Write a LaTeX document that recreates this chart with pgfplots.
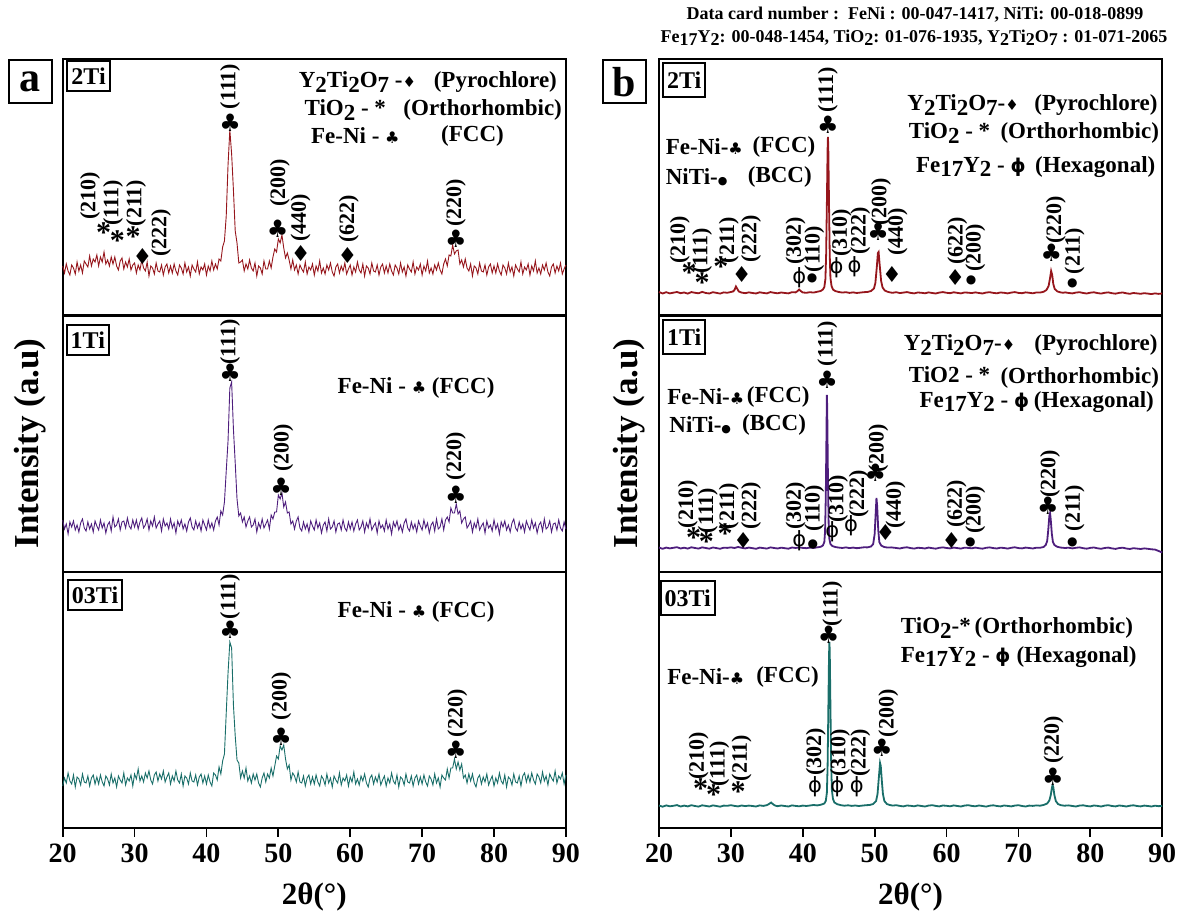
\documentclass[border=0pt]{standalone}
\usepackage{fontspec}
\setmainfont{Liberation Serif}
\newfontfamily\symf{DejaVu Sans}
\usepackage{pgfplots}
\usepackage{pgfplotstable}
\pgfplotsset{compat=1.18}
\definecolor{cr}{RGB}{150,22,28}
\definecolor{cp}{RGB}{78,30,125}
\definecolor{cg}{RGB}{25,110,105}
\newcommand\sub[1]{\raisebox{-0.4ex}{#1}}
\newcommand\sclub{{\symf\fontsize{8}{8}\selectfont ♣}}
\newcommand\sdia{{\symf\fontsize{7.5}{8}\selectfont ♦}}
\newcommand\sbul{{\symf\fontsize{5.5}{6}\selectfont ●}}
\newcommand\sphi{{\symf\fontsize{9.5}{10}\selectfont ϕ}}

\pgfplotstableread[row sep=\\]{x r p g\\
20 49 52 42\\20.25 42 43 50\\20.5 51 48 45\\20.75 44 38 55\\21 40 50 47\\21.25 50 45 44\\21.5 47 51 53\\21.75 41 42 41\\
22 53 47 51\\22.25 44 40 49\\22.5 50 49 43\\22.75 42 53 54\\23 54 44 46\\23.25 51 41 45\\23.5 48 50 52\\23.75 59 43 42\\
24 49 48 50\\24.25 56 40 53\\24.5 53 51 44\\24.75 60 46 51\\25 49 42 44\\25.25 58 52 53\\25.5 53 44 46\\25.75 63 49 42\\
26 51 39 52\\26.25 55 47 49\\26.5 49 50 43\\26.75 58 41 54\\27 51 55 45\\27.25 58 45 50\\27.5 49 47 41\\27.75 45 53 52\\
28 54 42 48\\28.25 57 50 45\\28.5 46 51 55\\28.75 53 44 43\\29 48 54 50\\29.25 56 46 47\\29.5 45 43 53\\29.75 50 52 42\\
30 52 45 54\\30.25 42 52 49\\30.5 50 43 59\\30.75 45 50 47\\31 55 54 52\\31.25 47 44 46\\31.5 44 47 55\\31.75 53 53 50\\
32 39 42 57\\32.25 49 51 48\\32.5 47 46 44\\32.75 41 55 53\\33 52 44 56\\33.25 44 48 47\\33.5 43 51 54\\33.75 50 41 49\\
34 40 53 57\\34.25 48 46 46\\34.5 51 49 51\\34.75 42 43 55\\35 49 53 44\\35.25 42 44 52\\35.5 51 49 47\\35.75 44 39 57\\
36 40 51 48\\36.25 50 46 45\\36.5 47 52 54\\36.75 41 43 42\\37 52 48 52\\37.25 43 41 50\\37.5 48 50 44\\37.75 39 54 55\\
38 50 45 47\\38.25 46 42 46\\38.5 43 51 53\\38.75 53 44 43\\39 41 49 51\\39.25 48 41 54\\39.5 45 52 45\\39.75 51 47 52\\
40 40 42 44\\40.25 49 52 53\\40.5 44 44 46\\40.75 54 49 42\\41 45 42 55\\41.25 51 51 53\\41.5 46 55 48\\41.75 56 47 61\\
42 54 61 54\\42.25 68 57 67\\42.5 74 70 74\\42.75 99 101 115\\43 150 131 155\\43.25 185 184 186\\43.5 161 190 180\\43.75 125 143 123\\
44 84 109 92\\44.25 72 73 68\\44.5 52 56 65\\44.75 53 59 50\\45 55 50 57\\45.25 44 55 50\\45.5 51 45 60\\45.75 46 51 47\\
46 55 55 52\\46.25 47 45 45\\46.5 44 47 54\\46.75 52 53 48\\47 39 40 54\\47.25 49 49 45\\47.5 47 44 41\\47.75 41 53 50\\
48 54 44 55\\48.25 46 48 46\\48.5 46 52 54\\48.75 54 43 50\\49 47 57 60\\49.25 58 53 52\\49.5 66 60 62\\49.75 63 60 72\\
50 76 77 69\\50.25 72 73 82\\50.5 80 79 78\\50.75 67 65 83\\51 57 70 69\\51.25 62 59 59\\51.5 55 60 63\\51.75 46 48 48\\
52 55 51 55\\52.25 45 43 52\\52.5 50 51 46\\52.75 41 55 56\\53 50 44 46\\53.25 46 41 45\\53.5 43 50 52\\53.75 53 43 42\\
54 41 48 50\\54.25 48 40 53\\54.5 45 51 44\\54.75 51 46 51\\55 40 42 44\\55.25 49 52 53\\55.5 44 44 46\\55.75 54 49 42\\
56 42 39 52\\56.25 47 47 49\\56.5 41 50 43\\56.75 50 41 54\\57 45 53 45\\57.25 52 43 50\\57.5 43 45 41\\57.75 39 51 52\\
58 48 40 48\\58.25 51 48 45\\58.5 42 49 55\\58.75 49 42 43\\59 44 52 50\\59.25 52 44 47\\59.5 41 41 53\\59.75 46 50 42\\
60 50 43 51\\60.25 40 50 46\\60.5 48 41 56\\60.75 43 48 44\\61 53 52 49\\61.25 45 42 43\\61.5 42 45 52\\61.75 51 51 47\\
62 39 40 54\\62.25 49 49 45\\62.5 47 44 41\\62.75 41 53 50\\63 52 42 53\\63.25 44 46 44\\63.5 43 49 51\\63.75 50 39 46\\
64 40 51 54\\64.25 48 44 43\\64.5 51 47 48\\64.75 42 41 52\\65 49 52 42\\65.25 42 43 50\\65.5 51 48 45\\65.75 44 38 55\\
66 40 50 47\\66.25 50 45 44\\66.5 47 51 53\\66.75 41 42 41\\67 52 47 51\\67.25 43 40 49\\67.5 48 49 43\\67.75 39 53 54\\
68 50 44 46\\68.25 46 41 45\\68.5 43 50 52\\68.75 53 43 42\\69 41 48 50\\69.25 48 40 53\\69.5 45 51 44\\69.75 51 46 51\\
70 40 42 44\\70.25 49 52 53\\70.5 44 44 46\\70.75 54 49 42\\71 42 39 52\\71.25 47 47 49\\71.5 41 50 43\\71.75 50 41 54\\
72 45 53 45\\72.25 52 43 50\\72.5 45 45 41\\72.75 41 53 53\\73 51 42 50\\73.25 56 52 48\\73.5 49 55 59\\73.75 60 50 50\\
74 59 64 60\\74.25 70 59 60\\74.5 61 59 69\\74.75 64 68 59\\75 65 58 66\\75.25 51 61 58\\75.5 55 49 64\\75.75 48 53 50\\
76 56 55 53\\76.25 47 44 45\\76.5 44 47 54\\76.75 51 51 47\\77 39 40 54\\77.25 49 49 45\\77.5 47 44 41\\77.75 41 53 50\\
78 52 42 53\\78.25 44 46 44\\78.5 43 49 51\\78.75 50 39 46\\79 40 51 54\\79.25 48 44 43\\79.5 51 47 48\\79.75 42 41 52\\
80 49 52 42\\80.25 42 43 50\\80.5 51 48 45\\80.75 44 38 55\\81 40 50 47\\81.25 50 45 44\\81.5 47 51 53\\81.75 41 42 41\\
82 52 47 51\\82.25 43 40 49\\82.5 48 49 43\\82.75 39 53 54\\83 50 44 46\\83.25 46 41 45\\83.5 43 50 52\\83.75 53 43 42\\
84 41 48 52\\84.25 48 40 55\\84.5 45 51 46\\84.75 51 46 53\\85 40 42 46\\85.25 49 52 55\\85.5 44 44 48\\85.75 54 49 44\\
86 42 39 54\\86.25 47 47 51\\86.5 41 50 45\\86.75 50 41 56\\87 45 53 47\\87.25 52 43 52\\87.5 43 45 43\\87.75 39 51 54\\
88 48 40 50\\88.25 51 48 47\\88.5 42 49 57\\88.75 49 42 45\\89 44 52 52\\89.25 52 44 49\\89.5 41 41 55\\89.75 46 50 44\\
90 50 43 53\\}\leftdata

\pgfplotstableread[row sep=\\]{x y\\
20 23\\20.5 21.5\\21 22.8\\21.5 21.6\\22 22.3\\22.5 23\\23 21.8\\23.5 22.5\\24 21.4\\24.5 22.9\\25 22.2\\25.5 21.7\\26 23.1\\26.5 22\\27 21.5\\27.5 22.8\\28 22.1\\28.5 21.4\\29 22.6\\29.5 22.2\\30 23\\30.3 23.5\\30.5 25\\30.7 28.5\\30.9 26\\31.1 23.5\\31.5 22.4\\32 21.8\\32.5 22.6\\33 22\\33.5 21.5\\34 22.7\\34.5 22.1\\35 21.6\\35.5 22.9\\36 22.2\\36.5 21.7\\37 22.5\\37.5 22\\38 21.6\\38.5 22.8\\39 22.6\\39.3 24\\39.5 25.5\\39.7 24\\40 22.5\\40.5 22.2\\41 22.8\\41.5 22.4\\42 23.2\\42.5 24\\42.8 25.5\\43 28\\43.15 36\\43.25 60\\43.35 110\\43.45 165\\43.5 178\\43.55 168\\43.65 112\\43.75 60\\43.85 37\\44 29\\44.2 25.5\\44.5 24\\45 23\\45.5 22.4\\46 22.8\\46.5 22.1\\47 22.6\\47.5 22\\48 22.4\\48.5 22.8\\49 23\\49.5 24\\49.9 26.5\\50.1 32\\50.3 48\\50.45 62\\50.55 63\\50.7 50\\50.9 34\\51.1 27.5\\51.4 24.5\\51.8 23.2\\52.2 22.5\\52.5 22.2\\53 22.8\\53.5 21.9\\54 22.4\\54.5 22.9\\55 22.1\\55.5 21.6\\56 22.5\\56.5 22.2\\57 21.7\\57.5 22.6\\58 22\\58.5 21.5\\59 22.4\\59.5 22.9\\60 22.2\\60.5 21.8\\61 22.7\\61.5 22.1\\62 21.6\\62.5 22.5\\63 22.3\\63.5 21.9\\64 22.6\\64.5 22\\65 21.5\\65.5 22.4\\66 22.8\\66.5 22.1\\67 21.7\\67.5 22.5\\68 22.2\\68.5 21.6\\69 22.4\\69.5 22.9\\70 22.1\\70.5 21.8\\71 22.6\\71.5 22.2\\72 21.7\\72.5 22.5\\73 22.4\\73.5 23.2\\73.9 25\\74.2 29\\74.4 37\\74.55 44\\74.7 40\\74.85 31\\75.05 26\\75.4 23.6\\75.8 22.7\\76.2 22.2\\76.5 22.6\\77 22\\77.5 21.6\\78 22.4\\78.5 22.8\\79 22\\79.5 21.5\\80 22.3\\80.5 22.7\\81 21.9\\81.5 21.4\\82 22.2\\82.5 22.6\\83 21.8\\83.5 21.3\\84 22.1\\84.5 22.5\\85 21.7\\85.5 21.2\\86 22\\86.5 21.6\\87 21.2\\87.5 21.8\\88 21.4\\88.5 20.9\\89 21.6\\89.5 21.1\\90 21.5\\}\rtop

\pgfplotstableread[row sep=\\]{x y\\
20 24.5\\20.5 23.2\\21 24.4\\21.5 23.6\\22 24.2\\22.5 24.8\\23 23.5\\23.5 24.3\\24 23.4\\24.5 24.7\\25 24\\25.5 23.4\\26 24.6\\26.5 24\\27 23.3\\27.5 24.5\\28 23.9\\28.5 23.2\\29 24.3\\29.5 24.1\\30 24.6\\30.5 24\\31 25\\31.5 24.2\\32 23.6\\32.5 24.4\\33 23.8\\33.5 23.2\\34 24.4\\34.5 23.9\\35 23.4\\35.5 24.6\\36 24\\36.5 23.5\\37 24.3\\37.5 23.8\\38 23.3\\38.5 24.5\\39 24\\39.5 24.6\\40 24.1\\40.5 23.8\\41 24.4\\41.5 24\\42 24.6\\42.5 25.2\\42.8 26.5\\43 30\\43.1 40\\43.2 75\\43.3 140\\43.35 177\\43.4 165\\43.5 95\\43.6 48\\43.7 33\\43.85 28\\44.1 26\\44.5 25\\45 24.4\\45.5 24\\46 24.6\\46.5 23.9\\47 24.4\\47.5 23.8\\48 24.2\\48.5 24.7\\49 24.6\\49.5 25.5\\49.8 28\\50 38\\50.15 60\\50.25 74\\50.35 66\\50.5 42\\50.65 30\\50.9 26.5\\51.3 25\\51.8 24.4\\52.3 24.6\\53 24\\53.5 23.5\\54 24.3\\54.5 24.7\\55 23.9\\55.5 23.4\\56 24.2\\56.5 24\\57 23.5\\57.5 24.4\\58 23.8\\58.5 23.3\\59 24.2\\59.5 24.6\\60 24\\60.5 23.6\\61 24.4\\61.5 23.9\\62 23.4\\62.5 24.3\\63 24.1\\63.5 23.7\\64 24.4\\64.5 23.8\\65 23.3\\65.5 24.2\\66 24.6\\66.5 23.9\\67 23.5\\67.5 24.3\\68 24\\68.5 23.4\\69 24.2\\69.5 24.7\\70 23.9\\70.5 23.6\\71 24.4\\71.5 24\\72 23.5\\72.5 24.3\\73 24.2\\73.5 25\\73.8 27\\74 31\\74.15 42\\74.3 56\\74.4 59\\74.5 52\\74.65 38\\74.8 30\\75 27\\75.4 25.2\\75.9 24.4\\76.5 24\\77 24.3\\77.5 23.6\\78 24.2\\78.5 24.6\\79 23.8\\79.5 23.3\\80 24.1\\80.5 24.5\\81 23.7\\81.5 23.2\\82 24\\82.5 24.4\\83 23.6\\83.5 23.1\\84 23.9\\84.5 24.3\\85 23.5\\85.5 23\\86 23.8\\86.5 23.4\\87 23\\87.5 23.6\\88 23.2\\88.5 22.7\\89 22.4\\89.5 21\\90 19.5\\}\rmid

\pgfplotstableread[row sep=\\]{x y\\
20 22.5\\20.5 21.3\\21 22.6\\21.5 21.7\\22 22.2\\22.5 22.9\\23 21.5\\23.5 22.4\\24 21.6\\24.5 22.8\\25 22\\25.5 21.4\\26 22.7\\26.5 22.1\\27 21.5\\27.5 22.6\\28 22\\28.5 21.3\\29 22.4\\29.5 22.2\\30 22.8\\30.5 22.1\\31 21.6\\31.5 22.5\\32 21.9\\32.5 22.4\\33 22\\33.5 21.5\\34 22.6\\34.5 22.1\\35 22.8\\35.3 24\\35.6 25.5\\35.9 23.5\\36.2 22.3\\36.5 21.8\\37 22.5\\37.5 22\\38 21.5\\38.5 22.6\\39 22.1\\39.5 21.7\\40 22.4\\40.5 22\\41 22.5\\41.5 23\\42 22.6\\42.5 23.2\\43 24.5\\43.2 27\\43.35 35\\43.45 60\\43.55 115\\43.65 172\\43.7 186\\43.75 178\\43.85 120\\43.95 65\\44.05 38\\44.2 29\\44.4 25.5\\44.8 23.8\\45.3 22.8\\45.8 22.3\\46.3 22.7\\46.8 22.1\\47.3 22.5\\47.8 22\\48.3 22.4\\48.8 22.8\\49.3 23\\49.8 24\\50.2 27\\50.4 34\\50.6 52\\50.75 65\\50.85 62\\51 47\\51.15 34\\51.35 27\\51.7 24\\52.1 23\\52.5 22.4\\53 22.8\\53.5 22.1\\54 21.6\\54.5 22.5\\55 22.2\\55.5 21.7\\56 22.6\\56.5 22\\57 21.5\\57.5 22.4\\58 22.8\\58.5 22.1\\59 21.6\\59.5 22.5\\60 22.2\\60.5 21.7\\61 22.6\\61.5 22\\62 21.5\\62.5 22.4\\63 22.8\\63.5 22.1\\64 21.7\\64.5 22.5\\65 22\\65.5 21.4\\66 22.3\\66.5 22.7\\67 22\\67.5 21.6\\68 22.5\\68.5 22.1\\69 21.6\\69.5 22.4\\70 22.8\\70.5 22\\71 21.5\\71.5 22.4\\72 22.1\\72.5 22.6\\73 22.3\\73.5 23\\74 24.5\\74.3 27.5\\74.5 33\\74.65 40\\74.75 43\\74.85 41\\75 33\\75.2 27\\75.5 24\\75.9 22.8\\76.4 22.3\\77 22.6\\77.5 22\\78 21.5\\78.5 22.4\\79 22.7\\79.5 22\\80 21.6\\80.5 22.5\\81 22.1\\81.5 21.5\\82 22.4\\82.5 22.8\\83 22\\83.5 21.6\\84 22.5\\84.5 22.1\\85 21.5\\85.5 22.3\\86 22.7\\86.5 22\\87 21.6\\87.5 22.4\\88 22\\88.5 21.5\\89 22.3\\89.5 21.8\\90 22.2\\}\rbot

\pgfplotsset{
  panel/.style={anchor=south west, scale only axis, width=251.6pt, height=128pt,
    xmin=20, xmax=90, ymin=0, ymax=256, xtick=\empty, ytick=\empty, clip=false,
    axis line style={line width=0.9pt}},
  bottompanel/.style={panel, xtick={20,30,...,90}, xtick pos=bottom, tick align=outside,
    major tick length=4.5pt, tick style={line width=0.9pt, black},
    xticklabel style={font=\fontsize{14}{16}\selectfont\bfseries},
    /pgf/number format/assume math mode=true,
    xlabel={2θ(°)},
    xlabel style={font=\fontsize{15.5}{17}\selectfont\bfseries, at={(axis description cs:0.5,0)}, anchor=center, yshift=-34.5pt}},
}
\tikzset{
  hkl/.style={rotate=90, font=\fontsize{11}{11}\selectfont\bfseries, inner sep=0pt},
  cl/.style={font=\symf\fontsize{12}{12}\selectfont, inner sep=0pt},
  di/.style={font=\symf\fontsize{11}{11}\selectfont, inner sep=0pt},
  as/.style={font=\fontsize{15}{15}\selectfont\bfseries, inner sep=0pt, text depth=-4pt},
  ph/.style={font=\symf\fontsize{10.5}{11}\selectfont, inner sep=0pt},
  bu/.style={font=\symf\fontsize{6}{6}\selectfont, inner sep=0pt},
  lg/.style={font=\fontsize{11.5}{13}\selectfont\bfseries, inner sep=0pt},
  sample/.style={draw, line width=1pt, font=\fontsize{12}{12}\selectfont\bfseries, inner xsep=2pt, minimum height=15pt},
  letter/.style={draw, line width=1pt, minimum size=21.5pt, inner sep=0pt, font=\fontsize{21}{21}\selectfont\bfseries},
  ylab/.style={rotate=90, font=\fontsize{17.5}{18}\selectfont\bfseries},
}

\begin{document}
\begin{tikzpicture}
\path[use as bounding box] (0,0) rectangle (591.5pt,457pt);
\node[font=\fontsize{9}{10}\selectfont\bfseries] at (457.5pt,449.5pt) {Data card number :\ \ FeNi : 00-047-1417, NiTi: 00-018-0899};
\node[font=\fontsize{9}{10}\selectfont\bfseries] at (457pt,438pt) {Fe\sub{17}Y\sub{2}: 00-048-1454, TiO\sub{2}: 01-076-1935, Y\sub{2}Ti\sub{2}O\sub{7} : 01-071-2065};

% ---------- left top
\begin{axis}[panel, at={(31.35pt,299.5pt)}]
\addplot[cr, line width=0.45pt] table[x=x, y=r] {\leftdata};
\node[letter] at (15.5,233.5) {a};
\node[sample] at (23.6,238.5) {2Ti};
\node[lg, anchor=west] at (52.8,233) {Y\sub{2}Ti\sub{2}O\sub{7} -\sdia};
\node[lg, anchor=east] at (88.8,233) {(Pyrochlore)};
\node[lg, anchor=west] at (53.6,205) {TiO\sub{2} - *};
\node[lg, anchor=east] at (89.5,205) {(Orthorhombic)};
\node[lg, anchor=west] at (54.5,179) {Fe-Ni - \sclub};
\node[lg, anchor=west] at (72.6,179) {(FCC)};
\node[hkl] at (43.3,228.5) {(111)}; \node[cl] at (43.3,192) {♣};
\node[hkl] at (50.2,132) {(200)}; \node[cl] at (49.9,86) {♣};
\node[hkl] at (53.1,97) {(440)}; \node[di] at (53.1,61) {♦};
\node[hkl] at (59.8,96) {(622)}; \node[di] at (59.6,59) {♦};
\node[hkl] at (74.7,112) {(220)}; \node[cl] at (74.7,76) {♣};
\node[hkl] at (23.8,119) {(210)}; \node[as] at (25.7,82) {*};
\node[hkl] at (27.0,112) {(111)}; \node[as] at (27.6,74) {*};
\node[hkl] at (30.2,112) {(211)}; \node[as] at (29.8,78) {*};
\node[hkl] at (33.7,82) {(222)}; \node[di] at (31.1,58) {♦};
\end{axis}

% ---------- left middle
\begin{axis}[panel, at={(31.35pt,171pt)}]
\addplot[cp, line width=0.45pt] table[x=x, y=p] {\leftdata};
\node[ylab] at (15.45,128.5) {Intensity (a.u)};
\node[sample] at (23.5,232) {1Ti};
\node[lg, anchor=west] at (58.2,184) {Fe-Ni - \sclub\ (FCC)};
\node[hkl] at (43.3,230) {(111)}; \node[cl] at (43.3,199) {♣};
\node[hkl] at (50.7,124) {(200)}; \node[cl] at (50.4,85) {♣};
\node[hkl] at (74.7,115.5) {(220)}; \node[cl] at (74.7,77) {♣};
\end{axis}

% ---------- left bottom
\begin{axis}[bottompanel, at={(31.35pt,43pt)}]
\addplot[cg, line width=0.45pt] table[x=x, y=g] {\leftdata};
\node[sample] at (24.5,233) {03Ti};
\node[lg, anchor=west] at (58.2,216) {Fe-Ni - \sclub\ (FCC)};
\node[hkl] at (43.3,231.5) {(111)}; \node[cl] at (43.3,198) {♣};
\node[hkl] at (50.4,131.5) {(200)}; \node[cl] at (50.4,91) {♣};
\node[hkl] at (74.9,114.5) {(220)}; \node[cl] at (74.7,78) {♣};
\end{axis}

% ---------- right top
\begin{axis}[panel, at={(329.5pt,299.5pt)}]
\addplot[cr, line width=0.9pt] table[x=x, y=y] {\rtop};
\node[letter] at (15.2,233) {b};
\node[sample, minimum height=17pt] at (23.5,235) {2Ti};
\node[lg, anchor=west] at (54.5,210) {Y\sub{2}Ti\sub{2}O\sub{7}-\sdia};
\node[lg, anchor=east] at (89.4,210) {(Pyrochlore)};
\node[lg, anchor=west] at (54.7,182) {TiO\sub{2} - *};
\node[lg, anchor=east] at (89.6,182) {(Orthorhombic)};
\node[lg, anchor=west] at (55.7,148) {Fe\sub{17}Y\sub{2} - \sphi};
\node[lg, anchor=east] at (89.1,148) {(Hexagonal)};
\node[lg, anchor=west] at (20.9,168) {Fe-Ni-\sclub};
\node[lg, anchor=east] at (41.8,168) {(FCC)};
\node[lg, anchor=west] at (20.9,138) {NiTi-\sbul};
\node[lg, anchor=east] at (41.3,138) {(BCC)};
\node[hkl] at (43.5,225) {(111)}; \node[cl] at (43.5,190) {♣};
\node[hkl] at (22.9,75) {(210)}; \node[as] at (24.2,42) {*};
\node[hkl] at (26.0,64) {(111)}; \node[as] at (26.0,32) {*};
\node[hkl] at (29.7,75) {(211)}; \node[as] at (28.6,48) {*};
\node[hkl] at (32.8,76) {(222)}; \node[di] at (31.5,40) {♦};
\node[hkl] at (39.0,74) {(302)}; \node[ph] at (39.5,37) {ϕ};
\node[hkl] at (41.6,66) {(110)}; \node[bu] at (41.3,37) {●};
\node[hkl] at (45.4,82) {(310)}; \node[ph] at (44.7,47) {ϕ};
\node[hkl] at (48.0,84) {(222)}; \node[ph] at (47.2,48) {ϕ};
\node[hkl] at (50.9,113) {(200)}; \node[cl] at (50.5,83) {♣};
\node[hkl] at (53.2,83) {(440)}; \node[di] at (52.4,40) {♦};
\node[hkl] at (61.5,74) {(622)}; \node[di] at (61.2,37) {♦};
\node[hkl] at (64.0,67) {(200)}; \node[bu] at (63.4,35) {●};
\node[hkl] at (75.2,95) {(220)}; \node[cl] at (74.6,62) {♣};
\node[hkl] at (77.8,64) {(211)}; \node[bu] at (77.5,32) {●};
\end{axis}

% ---------- right middle
\begin{axis}[panel, at={(329.5pt,171pt)}]
\addplot[cp, line width=0.9pt] table[x=x, y=y] {\rmid};
\node[ylab] at (15.8,128.5) {Intensity (a.u)};
\node[sample, minimum height=17pt] at (23.5,235) {1Ti};
\node[lg, anchor=west] at (54.0,227) {Y\sub{2}Ti\sub{2}O\sub{7}-\sdia};
\node[lg, anchor=east] at (89.4,227) {(Pyrochlore)};
\node[lg, anchor=west] at (54.7,197) {TiO2 - *};
\node[lg, anchor=east] at (89.6,194) {(Orthorhombic)};
\node[lg, anchor=west] at (56.2,170) {Fe\sub{17}Y\sub{2} - \sphi};
\node[lg, anchor=east] at (88.9,170) {(Hexagonal)};
\node[lg, anchor=west] at (21.1,175) {Fe-Ni-\sclub};
\node[lg, anchor=east] at (41.0,175) {(FCC)};
\node[lg, anchor=west] at (21.4,147) {NiTi-\sbul};
\node[lg, anchor=east] at (40.5,147) {(BCC)};
\node[hkl] at (43.4,228.5) {(111)}; \node[cl] at (43.4,192) {♣};
\node[hkl] at (24.0,67.5) {(210)}; \node[as] at (24.8,34) {*};
\node[hkl] at (26.8,61.5) {(111)}; \node[as] at (26.6,30) {*};
\node[hkl] at (29.7,66) {(211)}; \node[as] at (29.2,38) {*};
\node[hkl] at (32.8,66) {(222)}; \node[di] at (31.7,32) {♦};
\node[hkl] at (39.0,66) {(302)}; \node[ph] at (39.5,31) {ϕ};
\node[hkl] at (41.6,64) {(110)}; \node[bu] at (41.4,28) {●};
\node[hkl] at (44.9,73) {(310)}; \node[ph] at (44.1,40) {ϕ};
\node[hkl] at (47.8,78) {(222)}; \node[ph] at (46.7,46) {ϕ};
\node[hkl] at (50.5,123.5) {(200)}; \node[cl] at (50.1,99) {♣};
\node[hkl] at (52.9,67) {(440)}; \node[di] at (51.5,40) {♦};
\node[hkl] at (61.4,68) {(622)}; \node[di] at (60.7,32) {♦};
\node[hkl] at (64.0,62) {(200)}; \node[bu] at (63.3,30) {●};
\node[hkl] at (74.4,98) {(220)}; \node[cl] at (74.1,66) {♣};
\node[hkl] at (77.8,64) {(211)}; \node[bu] at (77.5,30) {●};
\end{axis}

% ---------- right bottom
\begin{axis}[bottompanel, at={(329.5pt,43pt)}]
\addplot[cg, line width=0.9pt] table[x=x, y=y] {\rbot};
\node[sample, minimum height=17pt] at (24.0,230) {03Ti};
\node[lg, anchor=west] at (53.6,200) {TiO\sub{2}-*};
\node[lg, anchor=east] at (86.0,200) {(Orthorhombic)};
\node[lg, anchor=west] at (53.6,171) {Fe\sub{17}Y\sub{2} - \sphi};
\node[lg, anchor=east] at (86.5,171) {(Hexagonal)};
\node[lg, anchor=west] at (21.1,151) {Fe-Ni-\sclub};
\node[lg, anchor=east] at (42.3,151) {(FCC)};
\node[hkl] at (44.1,224.5) {(111)}; \node[cl] at (43.6,193) {♣};
\node[hkl] at (25.5,72) {(210)}; \node[as] at (25.8,39) {*};
\node[hkl] at (28.4,64) {(111)}; \node[as] at (27.6,33) {*};
\node[hkl] at (31.5,70) {(211)}; \node[as] at (31.0,36) {*};
\node[hkl] at (41.8,76) {(302)}; \node[ph] at (41.7,41) {ϕ};
\node[hkl] at (45.2,75) {(310)}; \node[ph] at (44.8,41) {ϕ};
\node[hkl] at (48.0,75) {(222)}; \node[ph] at (47.5,41) {ϕ};
\node[hkl] at (51.9,114.5) {(200)}; \node[cl] at (51.0,80) {♣};
\node[hkl] at (74.9,88) {(220)}; \node[cl] at (74.8,51) {♣};
\end{axis}
\end{tikzpicture}
\end{document}
